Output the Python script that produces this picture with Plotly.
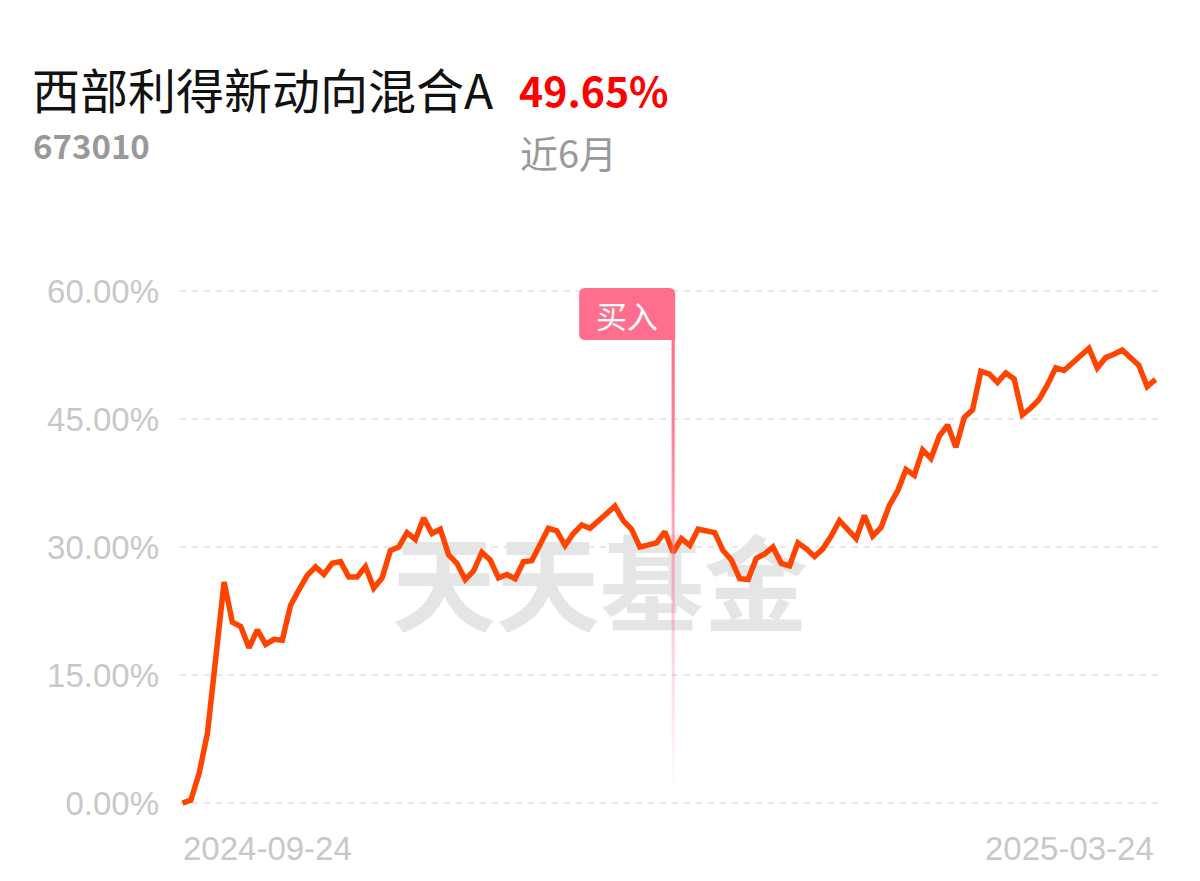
import plotly.graph_objects as go

# ---------------- data ----------------
fund_name = "西部利得新动向混合A"
fund_code = "673010"
period_return = "49.65%"
period_label = "近6月"
buy_label = "买入"
watermark = "天天基金"

# cumulative return (%) for each trading day, 2024-09-24 .. 2025-03-24
returns = [
    0.0, 0.35, 3.5, 8.2, 17.0, 25.9, 21.2, 20.7, 18.2, 20.3,
    18.6, 19.2, 19.1, 23.2, 25.0, 26.7, 27.7, 26.8, 28.1, 28.3,
    26.5, 26.5, 27.7, 25.2, 26.4, 29.6, 30.0, 31.7, 30.9, 33.4,
    31.6, 32.1, 29.1, 28.1, 26.2, 27.2, 29.4, 28.5, 26.4, 26.8,
    26.3, 28.3, 28.4, 30.4, 32.2, 31.9, 30.2, 31.6, 32.6, 32.2,
    33.1, 34.1, 34.8, 33.1, 32.1, 30.0, 30.2, 30.5, 31.8, 29.4,
    31.0, 30.2, 32.1, 31.9, 31.7, 29.6, 28.5, 26.3, 26.2, 28.7,
    29.2, 30.0, 28.1, 27.8, 30.5, 29.8, 28.9, 29.8, 31.3, 33.1,
    32.1, 31.0, 33.7, 31.3, 32.3, 34.9, 36.6, 39.1, 38.4, 41.4,
    40.4, 43.0, 44.3, 41.7, 45.2, 46.1, 50.6, 50.3, 49.3, 50.4,
    49.7, 45.5, 46.3, 47.3, 49.0, 51.0, 50.7, 51.5, 52.3, 53.3,
    51.0, 52.2, 52.6, 53.1, 52.2, 51.3, 48.8, 49.65,
]
buy_index = 59
x_tick_labels = ["2024-09-24", "2025-03-24"]
y_tick_vals = [0, 15, 30, 45, 60]
y_tick_text = ["0.00%", "15.00%", "30.00%", "45.00%", "60.00%"]

# ---------------- layout geometry ----------------
# the page places the figure 8px from the top-left corner (body margin),
# so all screen-pixel targets are converted to figure pixels with OFF.
OFF = 8
W_PX, H_PX = 1200, 881
L, T = 180 - OFF, 274 - OFF
R = W_PX - (1158 - OFF)
B = H_PX - (816 - OFF)
PW = W_PX - L - R
PH = H_PX - T - B
n = len(returns)
idx = list(range(n))
x_range = [-0.3, n - 1 + 0.3]
y_range = [-1.5, 62.0]


def px_x(px):  # screen px -> paper fraction
    return (px - OFF - L) / PW


def px_y(py):
    return (H_PX - B - (py - OFF)) / PH


def y_at_px(py):
    return y_range[0] + px_y(py) * (y_range[1] - y_range[0])


def x_at_px(px):
    return x_range[0] + px_x(px) * (x_range[1] - x_range[0])


CJK = "Noto Sans CJK SC"
LAT = "Liberation Sans, Arial, sans-serif"
GRAY_AXIS = "#c8c8c8"
PINK = "255,110,140"

fig = go.Figure()

# watermark (beneath the line)
fig.add_trace(go.Scatter(
    x=[x_at_px(600)], y=[y_at_px(598)],
    mode="text", text=[watermark],
    textfont=dict(family=CJK, size=104, color="#e5e5e5", weight=700),
    hoverinfo="skip", showlegend=False, cliponaxis=False,
))

# main return line
fig.add_trace(go.Scatter(
    x=idx, y=returns, mode="lines",
    line=dict(color="#ff4400", width=5.5, shape="linear"),
    hoverinfo="skip", showlegend=False,
))

# buy marker: vertical gradient strip
half_w = 0.19
y_top = y_at_px(340)
y_bot = y_at_px(792)
fig.add_trace(go.Scatter(
    x=[buy_index - half_w, buy_index + half_w, buy_index + half_w, buy_index - half_w, buy_index - half_w],
    y=[y_bot, y_bot, y_top, y_top, y_bot],
    mode="none", fill="toself",
    fillgradient=dict(
        type="vertical",
        colorscale=[
            [0.0, f"rgba({PINK},0)"],
            [0.42, f"rgba({PINK},0.4)"],
            [0.8, f"rgba({PINK},0.88)"],
            [1.0, f"rgba({PINK},1)"],
        ],
    ),
    hoverinfo="skip", showlegend=False,
))

# buy label box (rounded rect, pixel sized, anchored on buy point)
box_path = ("M -88,-14 L -4,-14 Q 2,-14 2,-20 L 2,-66 L -88,-66 "
            "Q -94,-66 -94,-60 L -94,-20 Q -94,-14 -88,-14 Z")
fig.add_shape(
    type="path", path=box_path,
    xref="x", xsizemode="pixel", xanchor=buy_index,
    yref="paper", ysizemode="pixel", yanchor=1,
    fillcolor=f"rgb({PINK})", line=dict(width=0), layer="above",
)

annotations = [
    dict(text=buy_label, x=px_x(627), y=px_y(314), xref="paper", yref="paper",
         xanchor="center", yanchor="middle", showarrow=False,
         font=dict(family=CJK, size=31, color="#ffffff")),
    dict(text=fund_name, x=px_x(30), y=px_y(88), xref="paper", yref="paper",
         xanchor="left", yanchor="middle", showarrow=False,
         font=dict(family=CJK, size=48, color="#111111")),
    dict(text=period_return, x=px_x(517), y=px_y(89), xref="paper", yref="paper",
         xanchor="left", yanchor="middle", showarrow=False,
         font=dict(family=CJK, size=41, color="#ff0000", weight=700)),
    dict(text=fund_code, x=px_x(31), y=px_y(145), xref="paper", yref="paper",
         xanchor="left", yanchor="middle", showarrow=False,
         font=dict(family=CJK, size=33, color="#999999", weight=700)),
    dict(text=period_label, x=px_x(518), y=px_y(151), xref="paper", yref="paper",
         xanchor="left", yanchor="middle", showarrow=False,
         font=dict(family=CJK, size=38, color="#999999")),
    dict(text=x_tick_labels[0], x=0, y=px_y(848), xref="x", yref="paper",
         xanchor="left", yanchor="middle", showarrow=False, xshift=-1,
         font=dict(family=LAT, size=33, color=GRAY_AXIS)),
    dict(text=x_tick_labels[1], x=n - 1, y=px_y(848), xref="x", yref="paper",
         xanchor="right", yanchor="middle", showarrow=False, xshift=0,
         font=dict(family=LAT, size=33, color=GRAY_AXIS)),
]

fig.update_layout(
    width=W_PX, height=H_PX,
    margin=dict(l=L, r=R, t=T, b=B, pad=0),
    paper_bgcolor="#ffffff", plot_bgcolor="#ffffff",
    showlegend=False,
    annotations=annotations,
    xaxis=dict(range=x_range, showgrid=False, zeroline=False, showline=False,
               showticklabels=False, ticks="", fixedrange=True),
    yaxis=dict(range=y_range, tickvals=y_tick_vals, ticktext=y_tick_text,
               showgrid=True, gridcolor="#e8e8e8", gridwidth=2, griddash="6px,6px",
               zeroline=False, showline=False, ticks="",
               ticklabelstandoff=20,
               tickfont=dict(family=LAT, size=33, color=GRAY_AXIS),
               fixedrange=True),
)

fig.write_html("out.html")
